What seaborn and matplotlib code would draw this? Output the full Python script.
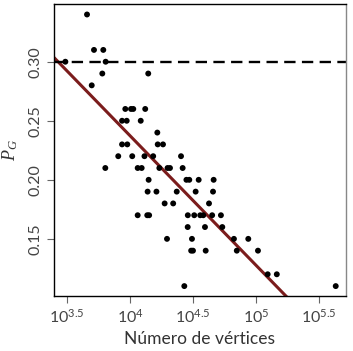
import numpy as np
import pandas as pd
import seaborn as sns
import matplotlib.pyplot as plt

# Valores (número de vértices, P_G)
vertices = [
    4560, 5180, 6140, 3070, 6410, 6030, 13960, 4970,
    9180, 10190, 10620, 13210,
    8650, 9420, 12170,
    16480,
    8650, 9520, 16600, 18280,
    8070, 10420, 13030, 15280, 25410,
    6370, 11510, 12380, 17100, 19870, 20770, 26180,
    14060, 28050, 29560, 35090, 46130,
    13800, 16220, 23500, 33200, 45600,
    18840, 22020, 42380,
    11510, 13710, 14190, 28770, 32360, 36110, 38170, 44890, 52700,
    28710, 39370, 54030,
    19670, 31040, 66830, 86870,
    30590, 31620, 39890, 70430, 103700,
    123800, 146300,
    26990, 429500,
]
pg = [
    0.34, 0.31, 0.31, 0.30, 0.30, 0.29, 0.29, 0.28,
    0.26, 0.26, 0.26, 0.26,
    0.25, 0.25, 0.25,
    0.24,
    0.23, 0.23, 0.23, 0.23,
    0.22, 0.22, 0.22, 0.22, 0.22,
    0.21, 0.21, 0.21, 0.21, 0.21, 0.21, 0.21,
    0.20, 0.20, 0.20, 0.20, 0.20,
    0.19, 0.19, 0.19, 0.19, 0.19,
    0.18, 0.18, 0.18,
    0.17, 0.17, 0.17, 0.17, 0.17, 0.17, 0.17, 0.17, 0.17,
    0.16, 0.16, 0.16,
    0.15, 0.15, 0.15, 0.15,
    0.14, 0.14, 0.14, 0.14, 0.14,
    0.12, 0.12,
    0.11, 0.11,
]
limiar = 0.30
xtick_exp = [3.5, 4, 4.5, 5, 5.5]
xtick_labels = [r'$10^{3.5}$', r'$10^{4}$', r'$10^{4.5}$', r'$10^{5}$', r'$10^{5.5}$']
yticks = [0.15, 0.20, 0.25, 0.30]

df = pd.DataFrame({'Vertices': vertices, 'PG': pg})
xlim = (10 ** 3.397, 10 ** 5.714)
ylim = (0.1017, 0.349)

sns.set_style('ticks')
plt.rcParams['font.family'] = ['Lato', 'DejaVu Sans']
plt.rcParams['mathtext.fontset'] = 'custom'
plt.rcParams['mathtext.rm'] = 'Lato'
plt.rcParams['mathtext.it'] = 'Liberation Serif:italic'

fig = plt.figure(figsize=(3.53, 3.51), dpi=100)
ax = fig.add_axes([0.153, 0.157, 0.827, 0.832])
ax.set_xscale('log')
ax.set_xlim(*xlim)
ax.set_ylim(*ylim)

# Reta de regressão (ajuste em log10 do número de vértices)
sns.regplot(x='Vertices', y='PG', data=df, logx=True, ci=None, truncate=False,
            scatter=False, color='#7b1c1c', line_kws={'linewidth': 2.2}, ax=ax)
sns.scatterplot(x='Vertices', y='PG', data=df, color='black', s=18,
                edgecolor='none', ax=ax, zorder=3)
ax.axhline(limiar, color='black', linestyle=(0, (4.8, 2.7)), linewidth=1.7)

ax.set_xlim(*xlim)
ax.set_ylim(*ylim)
ax.set_xticks([10 ** e for e in xtick_exp])
ax.set_xticklabels(xtick_labels)
ax.xaxis.set_minor_locator(plt.NullLocator())
ax.set_yticks(yticks)
ax.set_yticklabels([f'{v:.2f}' for v in yticks], rotation=90, va='center')
ax.tick_params(axis='both', labelsize=11.5, length=5, width=0.8, color='#666666', labelcolor='#444444')

for side in ['left', 'top', 'bottom']:
    ax.spines[side].set_color('black')
ax.spines['right'].set_color('#888888')
for s in ax.spines.values():
    s.set_linewidth(1.0)

ax.set_xlabel('Número de vértices', fontsize=12.5, color='#333333')
ax.set_ylabel(r'$P_G$', fontsize=13, color='#333333', labelpad=6)

plt.savefig('out.png', dpi=100)
